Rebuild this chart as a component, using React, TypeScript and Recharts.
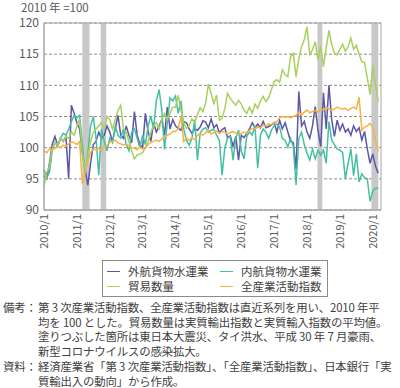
import React from 'react';
import { LineChart, Line, XAxis, YAxis, CartesianGrid, ReferenceArea } from 'recharts';

// monthly values, 2010/1 .. 2020/3
const gaikou = [
  95.5, 95.0, 97.5, 100.5, 101.8, 100.3, 101.5, 101.0, 101.8, 95.0, 106.8, 105.5,
  104.0, 103.0, 99.0, 96.5, 94.0, 97.5, 100.5, 101.0, 102.5, 101.5, 102.0, 103.5,
  102.5, 101.0, 103.0, 105.2, 102.0, 101.5, 103.5, 102.0, 100.8, 105.8, 102.0, 100.5,
  100.0, 105.5, 102.5, 101.0, 104.0, 102.5, 103.5, 104.5, 102.0, 106.5, 103.0, 104.5,
  103.5, 103.1, 102.8, 104.2, 104.0, 103.0, 102.3, 103.0, 102.8, 103.3, 104.3, 104.1,
  103.2, 104.6, 103.2, 103.7, 102.4, 102.9, 103.2, 101.6, 101.9, 100.2, 101.8, 98.0,
  102.0, 101.6, 102.3, 103.0, 104.0, 103.2, 103.8, 103.2, 104.2, 103.2, 103.4, 103.6,
  104.0, 102.5, 104.4, 103.0, 104.0, 102.5, 101.0, 100.8, 96.5, 109.0, 103.5, 104.2,
  102.5, 101.5, 103.5, 106.6, 102.8, 100.2, 108.8, 103.0, 110.0, 104.5, 101.8, 104.4,
  102.8, 103.8, 102.5, 103.0, 102.0, 103.5, 102.6, 103.2, 101.2, 102.6, 99.8, 97.5,
  99.0, 97.0, 95.9,
];

const naikou = [
  96.5, 95.2, 96.0, 99.5, 100.8, 100.2, 101.5, 102.3, 102.0, 103.0, 104.2, 105.2,
  104.8, 105.2, 100.5, 96.0, 99.0, 103.5, 105.0, 101.5, 95.6, 103.0, 101.0, 99.5,
  101.5, 100.8, 103.5, 102.0, 101.5, 103.0, 100.5, 99.5, 102.5, 103.0, 101.5, 100.0,
  102.0, 100.5, 103.5, 105.0, 103.0, 107.5, 109.3, 106.0, 99.7, 104.0, 108.0, 107.5,
  108.3, 105.5, 107.5, 103.0, 101.2, 100.4, 101.5, 104.5, 98.0, 102.3, 103.0, 103.2,
  102.5, 102.8, 103.0, 102.0, 101.2, 95.6, 100.0, 101.5, 101.8, 98.0, 101.5, 102.8,
  99.5, 98.2, 101.8, 102.5, 102.0, 103.5, 96.7, 102.0, 103.0, 102.5, 101.5, 102.8,
  103.5, 103.8, 103.3, 101.5, 101.2, 100.1, 101.5, 100.2, 94.0, 101.5, 102.5, 100.5,
  99.1, 98.0, 99.8, 98.2, 99.6, 98.8, 99.6, 97.5, 104.2, 101.2, 100.5, 99.8,
  99.6, 99.2, 95.0, 97.5, 99.8, 95.5, 99.0, 94.5, 95.8, 95.2, 95.0, 91.4,
  93.0, 93.5, 93.5,
];

const boeki = [
  93.8, 96.0, 97.0, 99.8, 100.8, 100.5, 101.5, 101.0, 101.8, 101.5, 102.5, 102.0,
  103.5, 104.5, 99.0, 96.5, 98.5, 101.0, 102.5, 103.0, 103.5, 104.0, 103.0, 105.0,
  104.5, 103.0, 104.5, 106.0, 106.8, 103.0, 102.5, 101.0, 99.5, 98.2, 98.8, 99.0,
  99.2, 100.0, 101.0, 102.5, 103.5, 104.0, 103.0, 104.5, 105.5, 104.5, 105.5, 106.5,
  106.5, 108.4, 106.0, 104.0, 103.1, 103.5, 104.6, 104.0, 105.3, 106.4, 105.8, 107.2,
  110.2, 108.7, 107.1, 108.4, 104.4, 104.7, 106.3, 108.7, 107.9, 107.3, 106.8, 107.6,
  107.0, 106.0, 105.5, 106.5, 105.5, 107.0, 106.3, 107.5, 108.2, 107.4, 108.0, 109.3,
  110.6, 110.9, 110.5, 112.5, 111.7, 111.4, 114.6, 115.1, 111.4, 114.3, 116.2, 117.3,
  119.4, 114.9, 115.7, 117.0, 114.1, 116.2, 113.0, 116.0, 118.8, 116.6, 115.2, 114.9,
  115.8, 116.6, 115.5, 116.2, 117.6, 115.8, 116.4, 115.0, 113.8, 113.6, 111.2, 108.5,
  113.2, 110.0, 107.4,
];

const zensangyo = [
  99.5, 99.2, 99.8, 99.6, 99.9, 100.3, 100.0, 100.4, 100.2, 100.6, 100.9, 100.8,
  100.5, 101.0, 94.2, 96.0, 97.8, 99.2, 99.8, 99.6, 99.9, 99.5, 100.2, 100.4,
  100.8, 101.0, 101.2, 100.8, 100.6, 100.4, 100.6, 100.3, 100.0, 99.9, 99.7, 100.1,
  99.8, 99.9, 100.5, 100.8, 101.0, 101.2, 101.0, 101.4, 101.8, 102.0, 102.2, 102.6,
  102.6, 103.0, 105.0, 101.0, 101.5, 101.2, 101.6, 101.3, 102.0, 102.2, 102.0, 102.4,
  102.8, 102.2, 102.4, 102.7, 102.3, 102.6, 102.5, 102.2, 102.4, 102.6, 102.3, 102.1,
  102.3, 102.5, 102.3, 102.8, 103.1, 103.0, 103.3, 103.2, 103.6, 103.5, 103.8, 103.7,
  103.9, 104.2, 104.8, 105.0, 104.9, 105.0, 104.8, 105.0, 105.2, 105.7, 105.2, 105.7,
  106.0, 105.6, 105.8, 106.0, 105.7, 106.3, 106.0, 106.5, 106.2, 106.0, 106.2, 106.5,
  106.3, 106.2, 106.3, 106.0, 106.3, 106.5, 106.2, 108.1, 102.8, 103.3, 103.5, 103.9,
  103.2, 101.2, 99.4,
];

const tickMonths = [0, 12, 24, 36, 48, 60, 72, 84, 96, 108, 120];
const tickLabels = ['2010/1', '2011/1', '2012/1', '2013/1', '2014/1', '2015/1', '2016/1', '2017/1', '2018/1', '2019/1', '2020/1'];
const yTicks = [90, 95, 100, 105, 110, 115, 120];

// shaded periods (month index): 東日本大震災, タイ洪水, 平成30年7月豪雨, 新型コロナ
const shaded = [
  [14.0, 16.6],
  [20.7, 22.7],
  [99.8, 101.6],
  [119.5, 122.0],
];

const series = [
  { key: 'gaikou', name: '外航貨物水運業', color: '#5b58a8' },
  { key: 'naikou', name: '内航貨物水運業', color: '#45bfa3' },
  { key: 'boeki', name: '貿易数量', color: '#a8d05e' },
  { key: 'zensangyo', name: '全産業活動指数', color: '#f8b146' },
];

const data = gaikou.map((v, i) => ({
  i,
  gaikou: v,
  naikou: naikou[i],
  boeki: boeki[i],
  zensangyo: zensangyo[i],
}));

const font = '"Noto Sans CJK JP", "Noto Sans", sans-serif';

const XTick = (props: any) => {
  const { x, y, payload } = props;
  const label = tickLabels[tickMonths.indexOf(payload.value)];
  return (
    <text
      x={x}
      y={y}
      transform={`rotate(-90, ${x}, ${y})`}
      textAnchor="end"
      dy="0.35em"
      fontSize={11}
      fill="#595959"
    >
      {label}
    </text>
  );
};

export default function App() {
  return (
    <div style={{ position: 'absolute', left: 0, top: 0, width: 400, height: 388, background: '#fff', fontFamily: font, color: '#404040' }}>
      <div style={{ position: 'absolute', left: 21, top: 1, fontSize: 11.5, lineHeight: '13px', color: '#595959', whiteSpace: 'nowrap' }}>2010 年 =100</div>
      <LineChart width={400} height={260} data={data} margin={{ top: 23, right: 19, left: 0, bottom: 0 }}>
        <CartesianGrid vertical={false} stroke="#8c8c8c" strokeDasharray="3 2" />
        <XAxis
          dataKey="i"
          type="number"
          domain={[0, 123]}
          ticks={tickMonths}
          tick={<XTick />}
          tickLine={false}
          tickSize={0}
          tickMargin={4}
          height={50}
          axisLine={{ stroke: '#a6a6a6' }}
          interval={0}
        />
        <YAxis
          domain={[90, 120]}
          ticks={yTicks}
          width={44}
          tickLine={false}
          tickSize={0}
          tickMargin={5}
          axisLine={{ stroke: '#a6a6a6' }}
          tick={{ fontSize: 12, fill: '#595959' }}
          interval={0}
        />
        {shaded.map(([a, b], k) => (
          <ReferenceArea key={k} x1={a} x2={b} y1={90} y2={120} fill="#c8c8c8" fillOpacity={1} stroke="none" />
        ))}
        <ReferenceArea x1={0} x2={123} y1={90} y2={120} fill="none" stroke="#a6a6a6" />
        {series.map((s) => (
          <Line
            key={s.key}
            type="linear"
            dataKey={s.key}
            name={s.name}
            stroke={s.color}
            strokeWidth={1.5}
            dot={false}
            isAnimationActive={false}
          />
        ))}
      </LineChart>
      <div
        style={{
          position: 'absolute',
          left: 102,
          top: 260,
          width: 226,
          height: 37,
          border: '1px solid #8c8c8c',
          display: 'grid',
          gridTemplateColumns: '113px 111px',
          gridAutoRows: '15px',
          fontSize: 11.5,
          lineHeight: '15px',
          paddingTop: 3,
          boxSizing: 'border-box',
        }}
      >
        {series.map((s) => (
          <div key={s.key} style={{ display: 'flex', alignItems: 'center', paddingLeft: 4, whiteSpace: 'nowrap' }}>
            <span style={{ display: 'inline-block', width: 13, height: 0, borderTop: `1.5px solid ${s.color}`, marginRight: 8 }} />
            <span>{s.name}</span>
          </div>
        ))}
      </div>
      <div style={{ position: 'absolute', left: 3, top: 300, fontSize: 11.4, letterSpacing: '-0.15px', lineHeight: '14.7px', whiteSpace: 'nowrap' }}>
        <div style={{ display: 'flex' }}>
          <div style={{ width: 35 }}>備考：</div>
          <div>
            <div>第 3 次産業活動指数、全産業活動指数は直近系列を用い、2010 年平</div>
            <div>均を 100 とした。貿易数量は実質輸出指数と実質輸入指数の平均値。</div>
            <div>塗りつぶした箇所は東日本大震災、タイ洪水、平成 30 年 7 月豪雨、</div>
            <div>新型コロナウイルスの感染拡大。</div>
          </div>
        </div>
        <div style={{ display: 'flex' }}>
          <div style={{ width: 35 }}>資料：</div>
          <div>
            <div>経済産業省「第 3 次産業活動指数」、「全産業活動指数」、日本銀行「実</div>
            <div>質輸出入の動向」から作成。</div>
          </div>
        </div>
      </div>
    </div>
  );
}
